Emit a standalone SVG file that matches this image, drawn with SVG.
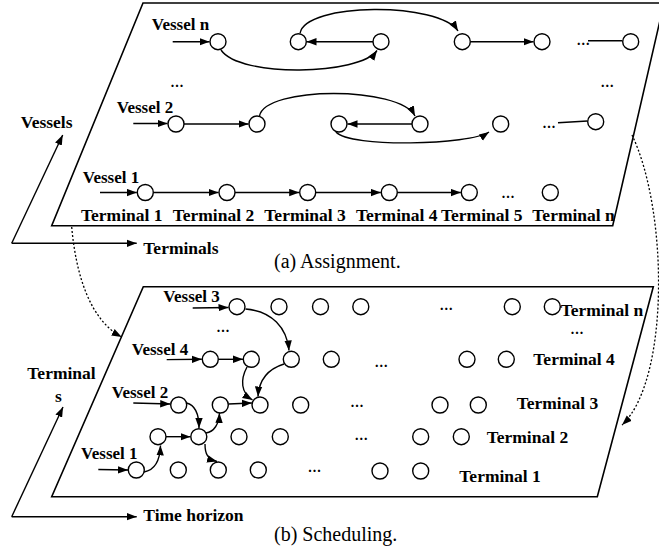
<svg xmlns="http://www.w3.org/2000/svg" width="659" height="547" viewBox="0 0 659 547">
<defs>
<marker id="arr" markerUnits="userSpaceOnUse" markerWidth="11" markerHeight="8" refX="10" refY="4" orient="auto">
<path d="M0,0.3 L10,4 L0,7.7 z" fill="#000"/>
</marker>
<style>
.n{fill:#fff;stroke:#000;stroke-width:1.4}
.e{fill:none;stroke:#000;stroke-width:1.4}
.a{fill:none;stroke:#000;stroke-width:1.4;marker-end:url(#arr)}
.d{fill:none;stroke:#000;stroke-width:1.3;stroke-dasharray:2,2;marker-end:url(#arr)}
.p{fill:none;stroke:#000;stroke-width:1.6}
.b{font-family:"Liberation Serif","Times New Roman",serif;font-weight:bold;font-size:17.5px;fill:#000}
.v{font-family:"Liberation Serif","Times New Roman",serif;font-weight:bold;font-size:17px;fill:#000}
.o{font-family:"Liberation Serif","Times New Roman",serif;font-weight:bold;font-size:14px;letter-spacing:1px;fill:#000}
.c{font-family:"Liberation Serif","Times New Roman",serif;font-size:20px;fill:#000}
</style>
</defs>

<g id="planes">
<polygon class="p" points="143,3 664,3 612.7,225.7 51.7,225.7"/>
<polygon class="p" points="143.3,286.7 653.3,286.7 597.3,496.7 51.7,496.7"/>
</g>

<g id="connectors">
<!-- axes top -->
<line class="a" x1="11.7" y1="243.3" x2="62.7" y2="135"/>
<line class="a" x1="11.7" y1="243.3" x2="136.7" y2="243.3"/>
<!-- axes bottom -->
<line class="a" x1="11.7" y1="516.7" x2="63" y2="407"/>
<line class="a" x1="11.7" y1="516.7" x2="136.7" y2="516.7"/>
<!-- dotted links -->
<path class="d" d="M71.7,227 C76,275 90,320 121.7,337"/>
<path class="d" d="M632,135 C668,210 670,380 622,425"/>

<!-- top: vessel n -->
<line class="a" x1="172.7" y1="41.7" x2="209.5" y2="41.7"/>
<path class="a" d="M221,50 C240,78 360,75 377,50.5"/>
<line class="a" x1="373" y1="41.7" x2="306.5" y2="41.7"/>
<path class="a" d="M300,33.5 C305,2 440,2 458,31"/>
<line class="a" x1="470.5" y1="41.7" x2="533.5" y2="41.7"/>
<line class="e" x1="588" y1="40.7" x2="622.5" y2="40.7"/>
<!-- top: vessel 2 -->
<line class="a" x1="133.3" y1="123.5" x2="167.5" y2="123.5"/>
<line class="a" x1="184" y1="124" x2="248.5" y2="124"/>
<path class="a" d="M259.5,116 C265,86 400,86 415,116"/>
<line class="a" x1="412" y1="124" x2="347.5" y2="124"/>
<path class="a" d="M336,132 C350,148 470,145 489,132"/>
<line class="e" x1="558" y1="122.7" x2="587.5" y2="121"/>
<!-- top: vessel 1 -->
<line class="a" x1="100" y1="192.5" x2="136.8" y2="192.5"/>
<line class="a" x1="153.3" y1="192.5" x2="218.5" y2="192.5"/>
<line class="a" x1="235" y1="192.5" x2="299.2" y2="192.5"/>
<line class="a" x1="315.7" y1="192.5" x2="380.8" y2="192.5"/>
<line class="a" x1="397.3" y1="192.5" x2="460.8" y2="192.5"/>

<!-- bottom -->
<line class="a" x1="192.7" y1="308" x2="228.5" y2="307.5"/>
<line class="a" x1="166.7" y1="359.6" x2="201.8" y2="359.3"/>
<line class="a" x1="133.3" y1="403" x2="170.2" y2="404"/>
<line class="a" x1="98.3" y1="469.5" x2="128" y2="470"/>
<path class="a" d="M245.5,309 C272,311 287,328 289,350.5"/>
<line class="a" x1="218.5" y1="359.3" x2="243" y2="359.3"/>
<path class="a" d="M284,364 C268,369 259,380 258,396.5"/>
<path class="a" d="M247,367 C240,380 241,393 252.5,400"/>
<line class="a" x1="228.5" y1="404" x2="251.8" y2="403"/>
<path class="a" d="M186.5,403 C195,405 199,413 199,428"/>
<line class="a" x1="166" y1="436.7" x2="190.5" y2="436.7"/>
<path class="a" d="M206,433 C214,432 219,424 219.5,413"/>
<path class="a" d="M205,444 C205,455 208,459 217,461.5"/>
<path class="a" d="M144,472 C155,470 160,460 160.5,445.5"/>
</g>

<!-- top nodes -->
<g id="tn1"><circle class="n" cx="218" cy="41.7" r="8"/></g>
<g id="tn2"><circle class="n" cx="298.3" cy="41.7" r="8"/></g>
<g id="tn3"><circle class="n" cx="381" cy="41.7" r="8"/></g>
<g id="tn4"><circle class="n" cx="462.3" cy="41.7" r="8"/></g>
<g id="tn5"><circle class="n" cx="542" cy="41.7" r="8"/></g>
<g id="tn6"><circle class="n" cx="630.7" cy="41.7" r="8"/></g>
<g id="t21"><circle class="n" cx="176" cy="124" r="8"/></g>
<g id="t22"><circle class="n" cx="257" cy="124" r="8"/></g>
<g id="t23"><circle class="n" cx="339" cy="124" r="8"/></g>
<g id="t24"><circle class="n" cx="420" cy="124" r="8"/></g>
<g id="t25"><circle class="n" cx="500.7" cy="124" r="8"/></g>
<g id="t26"><circle class="n" cx="595.7" cy="121.7" r="8"/></g>
<g id="t11"><circle class="n" cx="145.3" cy="192.5" r="8"/></g>
<g id="t12"><circle class="n" cx="227" cy="192.5" r="8"/></g>
<g id="t13"><circle class="n" cx="307.7" cy="192.5" r="8"/></g>
<g id="t14"><circle class="n" cx="389.3" cy="192.5" r="8"/></g>
<g id="t15"><circle class="n" cx="469.3" cy="192.5" r="8"/></g>
<g id="t16"><circle class="n" cx="550.3" cy="192.5" r="8"/></g>

<!-- bottom nodes: row n (vessel 3) -->
<g id="bn1"><circle class="n" cx="237" cy="306.7" r="8"/></g>
<g id="bn2"><circle class="n" cx="279" cy="306.7" r="8"/></g>
<g id="bn3"><circle class="n" cx="320.5" cy="306.7" r="8"/></g>
<g id="bn4"><circle class="n" cx="360.8" cy="306.7" r="8"/></g>
<g id="bn5"><circle class="n" cx="512.3" cy="306.7" r="8"/></g>
<g id="bn6"><circle class="n" cx="552.3" cy="306.7" r="8"/></g>
<!-- row 4 -->
<g id="b41"><circle class="n" cx="210.3" cy="359.3" r="8"/></g>
<g id="b42"><circle class="n" cx="251.3" cy="359.3" r="8"/></g>
<g id="b43"><circle class="n" cx="291.3" cy="359.3" r="8"/></g>
<g id="b44"><circle class="n" cx="331.3" cy="359.3" r="8"/></g>
<g id="b45"><circle class="n" cx="467" cy="359.3" r="8"/></g>
<g id="b46"><circle class="n" cx="506.3" cy="359.3" r="8"/></g>
<!-- row 3 -->
<g id="b31"><circle class="n" cx="178.7" cy="405" r="8"/></g>
<g id="b32"><circle class="n" cx="220.3" cy="405" r="8"/></g>
<g id="b33"><circle class="n" cx="260" cy="405" r="8"/></g>
<g id="b34"><circle class="n" cx="300.7" cy="405" r="8"/></g>
<g id="b35"><circle class="n" cx="440" cy="405" r="8"/></g>
<g id="b36"><circle class="n" cx="478.3" cy="405" r="8"/></g>
<!-- row 2 -->
<g id="b21"><circle class="n" cx="158" cy="436.7" r="8"/></g>
<g id="b22"><circle class="n" cx="198.8" cy="436.7" r="8"/></g>
<g id="b23"><circle class="n" cx="239" cy="436.7" r="8"/></g>
<g id="b24"><circle class="n" cx="280.3" cy="436.7" r="8"/></g>
<g id="b25"><circle class="n" cx="420.7" cy="436.7" r="8"/></g>
<g id="b26"><circle class="n" cx="461.3" cy="436.7" r="8"/></g>
<!-- row 1 -->
<g id="b11"><circle class="n" cx="136.3" cy="470" r="8"/></g>
<g id="b12"><circle class="n" cx="178.3" cy="470" r="8"/></g>
<g id="b13"><circle class="n" cx="218.3" cy="470" r="8"/></g>
<g id="b14"><circle class="n" cx="258.3" cy="470" r="8"/></g>
<g id="b15"><circle class="n" cx="380" cy="471" r="8"/></g>
<g id="b16"><circle class="n" cx="420.7" cy="471" r="8"/></g>

<g id="labels">
<text class="v" x="151.7" y="30">Vessel n</text>
<text class="o" x="170.7" y="87">...</text>
<text class="o" x="601" y="87">...</text>
<text class="o" x="577" y="45">...</text>
<text class="v" x="116.7" y="113.3">Vessel 2</text>
<text class="b" x="20.7" y="128">Vessels</text>
<text class="o" x="542.7" y="128">...</text>
<text class="v" x="82.7" y="182.5">Vessel 1</text>
<text class="o" x="501.7" y="198">...</text>
<text class="b" x="81" y="220.5">Terminal 1</text>
<text class="b" x="172.7" y="220.5">Terminal 2</text>
<text class="b" x="264.3" y="220.5">Terminal 3</text>
<text class="b" x="356" y="220.5">Terminal 4</text>
<text class="b" x="441" y="220.5">Terminal 5</text>
<text class="b" x="532.3" y="220.5">Terminal n</text>
<text class="b" x="143.3" y="254">Terminals</text>
<text class="c" x="274" y="268">(a) Assignment.</text>

<text class="v" x="163.3" y="301.5">Vessel 3</text>
<text class="o" x="216.7" y="332">...</text>
<text class="o" x="440" y="310">...</text>
<text class="b" x="560.7" y="316">Terminal n</text>
<text class="o" x="570.7" y="334">...</text>
<text class="v" x="131.7" y="355">Vessel 4</text>
<text class="o" x="375" y="366.5">...</text>
<text class="b" x="533.3" y="365">Terminal 4</text>
<text class="b" x="27.3" y="379">Terminal</text>
<text class="b" x="55" y="401.5">s</text>
<text class="v" x="111.7" y="397.7">Vessel 2</text>
<text class="o" x="350.7" y="406.7">...</text>
<text class="b" x="516.7" y="409">Terminal 3</text>
<text class="o" x="355" y="440">...</text>
<text class="b" x="486.7" y="442.7">Terminal 2</text>
<text class="v" x="81" y="459.3">Vessel 1</text>
<text class="o" x="308.3" y="471.7">...</text>
<text class="b" x="459.3" y="481.5">Terminal 1</text>
<text class="b" x="143.3" y="520.7">Time horizon</text>
<text class="c" x="274" y="541">(b) Scheduling.</text>
</g>
</svg>
